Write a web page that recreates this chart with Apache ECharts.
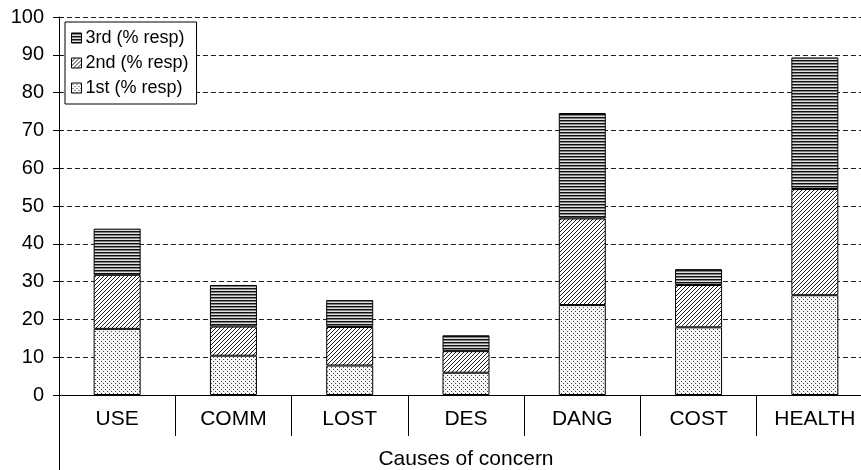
<!DOCTYPE html>
<html>
<head>
<meta charset="utf-8">
<script src="https://cdn.jsdelivr.net/npm/echarts@6/dist/echarts.min.js"></script>
<style>
html,body{margin:0;padding:0;background:#fff;}
#chart{width:861px;height:470px;}
</style>
</head>
<body>
<div id="chart"></div>
<script>
const categories = ['USE', 'COMM', 'LOST', 'DES', 'DANG', 'COST', 'HEALTH'];
const first = [17.5, 10.4, 7.8, 5.9, 23.8, 17.9, 26.4];
const second = [14.3, 7.7, 10.2, 5.7, 22.9, 11.2, 28.1];
const third = [12.2, 11.0, 7.1, 4.2, 27.9, 4.2, 34.8];
const seriesNames = ['1st (% resp)', '2nd (% resp)', '3rd (% resp)'];
const axisName = 'Causes of concern';

const FONT = "'Liberation Sans', Arial, sans-serif";
const GRID_LEFT = 59, GRID_TOP = 17, GRID_BOTTOM = 75;

function makeTile(w, h, draw) {
  const c = document.createElement('canvas');
  c.width = w; c.height = h;
  const ctx = c.getContext('2d');
  draw(ctx);
  return { image: c, repeat: 'repeat' };
}
const dotted = makeTile(4, 4, ctx => {
  ctx.fillStyle = '#f6f6f6'; ctx.fillRect(0, 0, 4, 4);
  ctx.fillStyle = '#444';
  ctx.fillRect(1, 1, 1, 1); ctx.fillRect(3, 3, 1, 1);
});
const hatched = makeTile(4, 4, ctx => {
  ctx.fillStyle = '#fff'; ctx.fillRect(0, 0, 4, 4);
  ctx.fillStyle = '#222';
  ctx.fillRect(3, 0, 1, 1); ctx.fillRect(2, 1, 1, 1);
  ctx.fillRect(1, 2, 1, 1); ctx.fillRect(0, 3, 1, 1);
});
const striped = makeTile(1, 3, ctx => {
  ctx.fillStyle = '#111'; ctx.fillRect(0, 0, 1, 1);
  ctx.fillStyle = '#808080'; ctx.fillRect(0, 1, 1, 1);
  ctx.fillStyle = '#e0e0e0'; ctx.fillRect(0, 2, 1, 1);
});

const chart = echarts.init(document.getElementById('chart'), null, { renderer: 'canvas' });

function barSeries(name, data, fill) {
  return {
    name: name, type: 'bar', stack: 'total', data: data,
    barWidth: 47,
    itemStyle: { color: fill, borderColor: '#000', borderWidth: 1 },
    emphasis: { disabled: true }
  };
}

chart.setOption({
  animation: false,
  textStyle: { fontFamily: FONT },
  grid: { left: GRID_LEFT, right: -12, top: GRID_TOP, bottom: GRID_BOTTOM, containLabel: false, outerBoundsMode: 'none' },
  legend: {
    orient: 'vertical',
    left: 65, top: 22,
    data: [seriesNames[2], seriesNames[1], seriesNames[0]],
    icon: 'rect',
    itemWidth: 10, itemHeight: 10, itemGap: 7,
    padding: [7, 8, 7, 6],
    borderColor: '#000', borderWidth: 1,
    backgroundColor: '#fff',
    textStyle: { fontSize: 18, color: '#000', fontFamily: FONT, padding: [0, 0, 0, -1] },
    itemStyle: { borderColor: '#000', borderWidth: 1 },
    selectedMode: false
  },
  xAxis: {
    type: 'category',
    data: categories,
    name: axisName,
    nameLocation: 'middle',
    nameGap: 54,
    nameTextStyle: { fontSize: 21, color: '#000', fontFamily: FONT },
    axisLine: { lineStyle: { color: '#000', width: 1 } },
    axisTick: { show: true, length: 41, lineStyle: { color: '#000', width: 1 } },
    axisLabel: { fontSize: 21, color: '#000', margin: 14, fontFamily: FONT },
    splitLine: { show: false }
  },
  yAxis: [{
    type: 'value',
    min: 0, max: 100, interval: 10,
    axisLine: { show: true, lineStyle: { color: '#000', width: 1 } },
    axisTick: { show: true, length: 6, lineStyle: { color: '#000' } },
    axisLabel: { fontSize: 20, color: '#000', margin: 15, fontFamily: FONT },
    splitLine: { show: true, lineStyle: { color: '#222', width: 1, type: [5, 3] } }
  }, {
    type: 'value',
    position: 'left',
    min: 0, max: 100, interval: 10,
    axisLine: { show: false },
    axisTick: { show: true, inside: true, length: 4, lineStyle: { color: '#000' } },
    axisLabel: { show: false },
    splitLine: { show: false }
  }],
  graphic: [{
    type: 'line',
    shape: { x1: GRID_LEFT + 0.5, y1: 395, x2: GRID_LEFT + 0.5, y2: 470 },
    style: { stroke: '#000', lineWidth: 1 },
    silent: true
  }],
  series: [
    barSeries(seriesNames[0], first, dotted),
    barSeries(seriesNames[1], second, hatched),
    barSeries(seriesNames[2], third, striped)
  ]
});
</script>
</body>
</html>
